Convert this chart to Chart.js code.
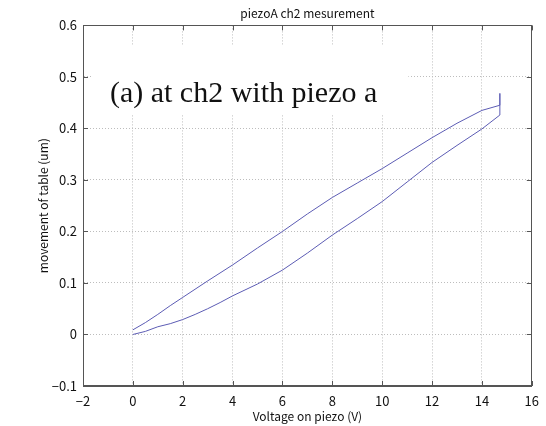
<!DOCTYPE html>
<html>
<head>
<meta charset="utf-8">
<script src="https://cdn.jsdelivr.net/npm/chart.js@4"></script>
<style>
  html, body { margin: 0; padding: 0; background: #fff; }
  #wrap { width: 546px; height: 426px; }
</style>
</head>
<body>
<div id="wrap"><canvas id="chartPiezo"></canvas></div>
<script>
// rising voltage (lower branch)
const voltsUp = [0, 0.5, 1, 1.5, 2, 2.5, 3, 3.5, 4, 5, 6, 7, 8, 9, 10, 11, 12, 13, 14, 14.72];
const moveUp = [0, 0.006, 0.015, 0.021, 0.029, 0.039, 0.05, 0.062, 0.075, 0.098, 0.125, 0.158, 0.193, 0.225, 0.258, 0.296, 0.334, 0.367, 0.399, 0.426];

// spike at the turning point
const voltsTurn = [14.72, 14.72];
const moveTurn = [0.468, 0.445];

// falling voltage (upper branch)
const voltsDown = [14, 13, 12, 11, 10, 9, 8, 7, 6, 5, 4, 3, 2, 1.5, 1, 0.5, 0];
const moveDown = [0.435, 0.41, 0.382, 0.352, 0.322, 0.294, 0.266, 0.234, 0.2, 0.168, 0.135, 0.104, 0.072, 0.056, 0.039, 0.023, 0.009];

const xTicks = [-2, 0, 2, 4, 6, 8, 10, 12, 14, 16];
const yTicks = [-0.1, 0, 0.1, 0.2, 0.3, 0.4, 0.5, 0.6];

const tickFont = { family: '"Noto Sans CJK JP", "DejaVu Sans", sans-serif', size: 13 };
const labelFont = { family: '"Noto Sans CJK JP", "DejaVu Sans", sans-serif', size: 12, weight: 'normal' };

const points = [];
voltsUp.forEach((v, i) => points.push({ x: v, y: moveUp[i] }));
voltsTurn.forEach((v, i) => points.push({ x: v, y: moveTurn[i] }));
voltsDown.forEach((v, i) => points.push({ x: v, y: moveDown[i] }));

const minus = s => s.replace('-', '\u2212');

// white label box + text, then matlab style box with inward ticks
const annotate = {
    id: 'annotate',
    beforeDatasetsDraw(chart) {
        const { ctx, scales: { x, y } } = chart;
        ctx.save();
        ctx.fillStyle = '#fff';
        const x0 = x.getPixelForValue(-1.6), x1 = x.getPixelForValue(11.05);
        const y0 = y.getPixelForValue(0.56), y1 = y.getPixelForValue(0.427);
        ctx.fillRect(x0, y0, x1 - x0, y1 - y0);
        ctx.fillStyle = '#111';
        ctx.font = '30px "Liberation Serif", "Times New Roman", serif';
        ctx.textBaseline = 'alphabetic';
        ctx.fillText('(a) at ch2 with piezo a', x.getPixelForValue(-0.92), y.getPixelForValue(0.451));
        ctx.restore();
    },
    afterDraw(chart) {
        const { ctx, chartArea: a, scales: { x, y } } = chart;
        ctx.save();
        ctx.strokeStyle = '#555';
        ctx.lineWidth = 1;
        ctx.strokeRect(Math.round(a.left) + 0.5, Math.round(a.top) + 0.5,
            Math.round(a.right - a.left) - 1, Math.round(a.bottom - a.top) - 1);
        ctx.beginPath();
        xTicks.forEach(t => {
            const px = Math.round(x.getPixelForValue(t)) + 0.5;
            ctx.moveTo(px, a.bottom); ctx.lineTo(px, a.bottom - 5);
            ctx.moveTo(px, a.top); ctx.lineTo(px, a.top + 5);
        });
        yTicks.forEach(t => {
            const py = Math.round(y.getPixelForValue(t)) + 0.5;
            ctx.moveTo(a.left, py); ctx.lineTo(a.left + 5, py);
            ctx.moveTo(a.right, py); ctx.lineTo(a.right - 5, py);
        });
        ctx.stroke();
        ctx.restore();
    }
};

new Chart(document.getElementById('chartPiezo'), {
    type: 'scatter',
    data: {
        datasets: [{
            data: points,
            showLine: true,
            borderColor: '#5c5cb4',
            borderWidth: 1,
            pointRadius: 0,
            tension: 0
        }]
    },
    options: {
        responsive: true,
        maintainAspectRatio: false,
        animation: false,
        layout: { padding: { left: 0, right: 8, top: 0, bottom: 0 } },
        plugins: {
            legend: { display: false },
            tooltip: { enabled: false },
            title: {
                display: true,
                text: 'piezoA ch2 mesurement',
                fullSize: false,
                color: '#111',
                font: labelFont,
                padding: { top: 6, bottom: 5 }
            }
        },
        scales: {
            x: {
                type: 'linear',
                min: -2,
                max: 16,
                afterBuildTicks: s => { s.ticks = xTicks.map(v => ({ value: v })); },
                afterFit: s => { s.height = 40; },
                ticks: { color: '#111', font: tickFont, padding: 7, maxRotation: 0, callback: v => minus(String(v)) },
                grid: { color: '#bdbdbd', drawTicks: false },
                border: { color: '#555', dash: [1, 2] },
                title: {
                    display: true,
                    text: 'Voltage on piezo (V)',
                    color: '#111',
                    font: labelFont,
                    padding: { top: 0, bottom: 2 }
                }
            },
            y: {
                type: 'linear',
                min: -0.1,
                max: 0.6,
                afterBuildTicks: s => { s.ticks = yTicks.map(v => ({ value: v })); },
                afterFit: s => { s.width = 83; },
                ticks: { color: '#111', font: tickFont, padding: 6, callback: v => minus(Number(v.toFixed(1)).toString()) },
                grid: { color: '#bdbdbd', drawTicks: false },
                border: { color: '#555', dash: [1, 2] },
                title: {
                    display: true,
                    text: 'movement of table (um)',
                    color: '#111',
                    font: labelFont,
                    padding: { top: 36, bottom: 0 }
                }
            }
        }
    },
    plugins: [annotate]
});
</script>
</body>
</html>
